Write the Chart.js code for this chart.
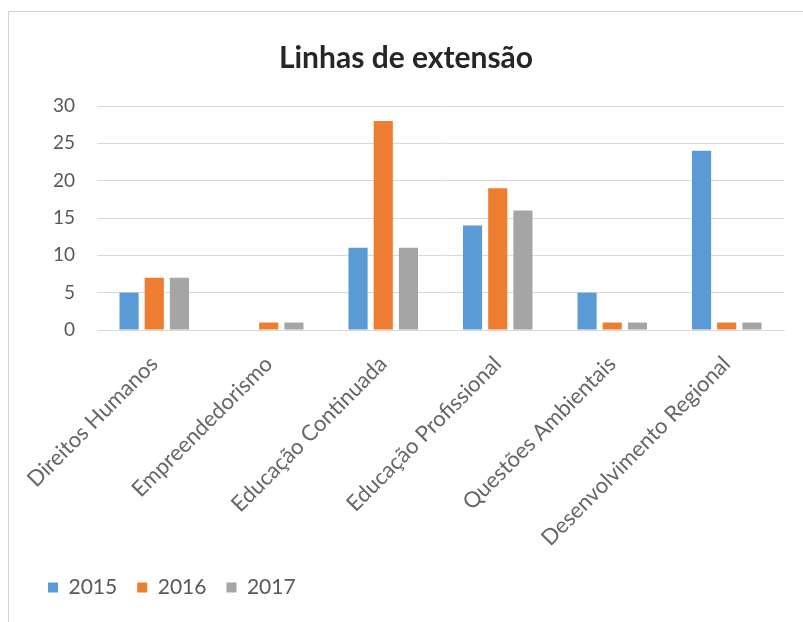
<!DOCTYPE html>
<html>
<head>
<meta charset="utf-8">
<script src="https://cdn.jsdelivr.net/npm/chart.js@4"></script>
<style>
  body { margin: 0; background: #fff; }
  #frame { position: absolute; left: 8px; top: 11px; width: 795px; height: 611px;
           border-left: 1px solid #d4d4d4; border-top: 1px solid #d4d4d4; }
  #box { position: absolute; left: 0; top: 0; width: 803px; height: 622px; }
</style>
</head>
<body>
<div id="frame"></div>
<div id="box"><canvas id="linhasChart"></canvas></div>
<script>
const categories = [
  "Direitos Humanos",
  "Empreendedorismo",
  "Educação Continuada",
  "Educação Profissional",
  "Questões Ambientais",
  "Desenvolvimento Regional",
];
const values2015 = [5, 0, 11, 14, 5, 24];
const values2016 = [7, 1, 28, 19, 1, 1];
const values2017 = [7, 1, 11, 16, 1, 1];
const yTicks = [0, 5, 10, 15, 20, 25, 30];

const ctx = document.getElementById("linhasChart").getContext("2d");

const datas = {
  labels: categories,
  datasets: [
    { label: "2015", data: values2015, backgroundColor: "#5B9BD5" },
    { label: "2016", data: values2016, backgroundColor: "#ED7D31" },
    { label: "2017", data: values2017, backgroundColor: "#A5A5A5" },
  ],
};

new Chart(ctx, {
  type: "bar",
  data: datas,
  options: {
    responsive: true,
    maintainAspectRatio: false,
    animation: false,
    categoryPercentage: 0.66,
    barPercentage: 0.76,
    layout: { padding: { left: 28, right: 19, top: 40, bottom: 14 } },
    plugins: {
      title: {
        display: true,
        text: "Linhas de extensão",
        color: "#262626",
        font: { family: "Lato", size: 30, weight: "bold" },
        padding: { top: 0, bottom: 30 },
      },
      legend: {
        position: "bottom",
        align: "start",
        labels: {
          boxWidth: 10,
          boxHeight: 10,
          padding: 20,
          color: "#595959",
          font: { family: "Lato", size: 21 },
        },
      },
      tooltip: { enabled: false },
    },
    scales: {
      x: {
        grid: { display: false },
        border: { color: "#d9d9d9" },
        ticks: {
          autoSkip: false,
          maxRotation: 45,
          minRotation: 45,
          color: "#666666",
          font: { family: "Lato", size: 22 },
          padding: 13,
        },
        afterFit: (scale) => { scale.height = 227; },
      },
      y: {
        min: 0,
        max: 30,
        afterBuildTicks: (scale) => { scale.ticks = yTicks.map((v) => ({ value: v })); },
        grid: { color: "#d9d9d9", drawTicks: false },
        border: { display: false },
        ticks: {
          color: "#595959",
          font: { family: "Lato", size: 19 },
          padding: 22,
        },
        afterFit: (scale) => { scale.width = 69; },
      },
    },
  },
});
</script>
</body>
</html>
